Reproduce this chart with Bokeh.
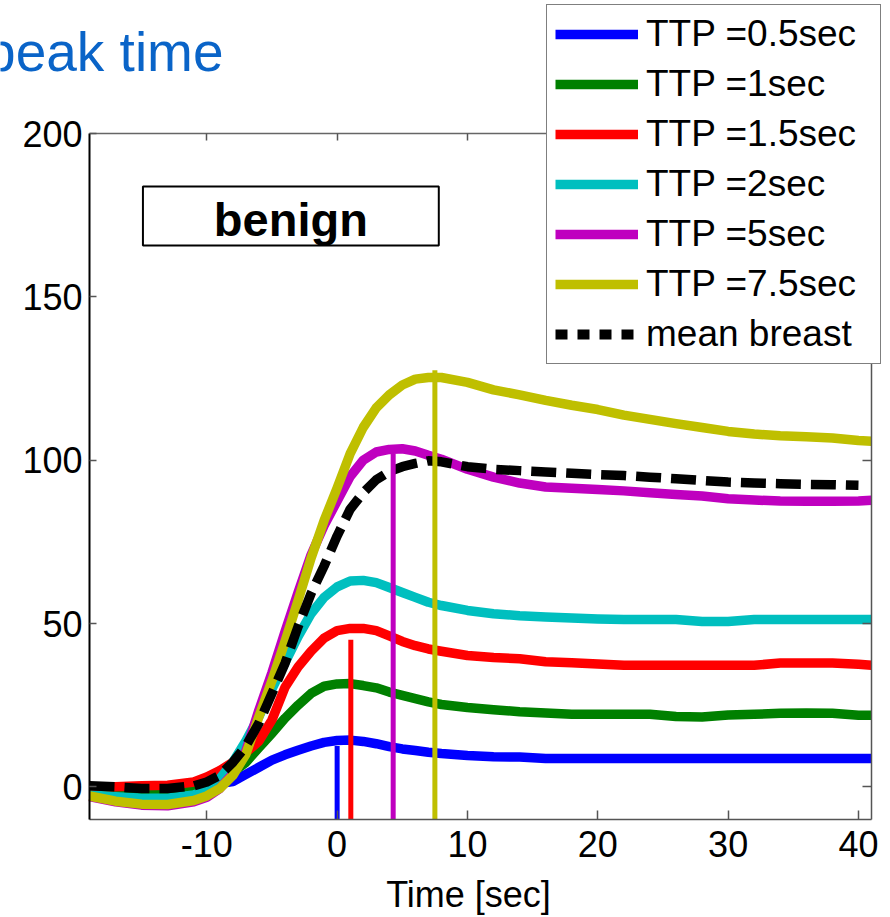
import math

from bokeh.plotting import figure
from bokeh.models import (Range1d, LinearAxis, FixedTicker, Legend, LegendItem,
                          Label, BoxAnnotation, CustomJSTickFormatter)
from bokeh.embed import file_html
from bokeh.resources import INLINE

FONT = "Liberation Sans"

# ---- data -------------------------------------------------------------
time_sec = [-19, -17, -15, -13, -11, -10, -9, -8, -7, -6, -5, -4, -3, -2, -1,
            0, 1, 2, 3, 4, 5, 6, 7, 8, 10, 12, 14, 16, 18, 20, 22, 24, 26, 28,
            30, 32, 34, 36, 38, 40, 41]

ttp_0_5 = [-1, -1.5, -2, -2, -1, 0, 1, 1.6, 3.8, 6, 8.2, 9.8, 11.2, 12.5, 13.6,
           14.2, 14.3, 13.9, 13.2, 12.3, 11.6, 11.1, 10.6, 10.2, 9.6, 9.2, 9.1,
           8.7, 8.7, 8.7, 8.7, 8.7, 8.7, 8.7, 8.7, 8.7, 8.7, 8.7, 8.7, 8.7, 8.7]
ttp_1 = [-1, -1.5, -2, -2, -1, 0, 2, 4.5, 7.5, 12, 16.4, 21, 25, 28.6, 30.8,
         31.5, 31.6, 31, 30.3, 29, 28, 27, 26, 25.2, 24.3, 23.6, 23, 22.6, 22.2,
         22.2, 22.2, 22.2, 21.5, 21.4, 22, 22.2, 22.5, 22.6, 22.5, 21.9, 21.9]
ttp_1_5 = [0, 0, 0.3, 0.5, 1.5, 3, 5, 7.5, 10.5, 14, 20.5, 30.5, 36.7, 41.5, 45.5,
           47.8, 48.5, 48.5, 47.8, 46.2, 44.5, 43.2, 42.2, 41.5, 40.2, 39.6, 39.2,
           38.3, 38, 37.6, 37.2, 37.2, 37.2, 37.2, 37.2, 37.2, 37.9, 37.9, 37.9,
           37.5, 37.2]
ttp_2 = [-2.5, -3, -3.5, -3.5, -2.5, -1, 2.5, 7.5, 14, 21.5, 30, 38, 46, 53, 58,
         61.2, 63, 63.2, 62.5, 61, 59.5, 58, 56.5, 55.5, 54, 53, 52.4, 52, 51.7,
         51.4, 51.2, 51.2, 51.2, 50.6, 50.6, 51.2, 51.2, 51.2, 51.2, 51.2, 51.2]
ttp_5 = [-3, -4.6, -5.6, -5.8, -4.6, -3.2, -0.5, 4, 11, 23.5, 35, 47.5, 59.5, 71,
         80, 87.5, 95, 100, 102.5, 103.3, 103.5, 102.8, 101.5, 100.3, 97.2, 94.8,
         93, 91.8, 91.4, 91, 90.6, 90, 89.5, 89, 88.2, 87.8, 87.5, 87.4, 87.4,
         87.5, 87.7]
ttp_7_5 = [-2.8, -4.4, -5.3, -5.4, -4.2, -2.8, -0.5, 3.5, 10, 21.5, 32.5, 44.5, 57,
           70, 81.5, 91.5, 102, 110, 116, 120, 123, 124.8, 125.3, 125.3, 123.8,
           121.5, 120, 118.3, 116.8, 115.5, 113.8, 112.5, 111.2, 110, 108.8, 108,
           107.5, 107.2, 106.8, 106, 105.8]
mean_breast = [0.3, 0, -0.5, -0.5, 0.3, 1.5, 3.5, 7.5, 12.5, 19.5, 28.6, 37.8, 49,
               59.2, 67.6, 76.8, 85, 90, 94, 96.5, 98, 99, 99.8, 99.5, 98, 97.2,
               96.8, 96.4, 96, 95.6, 95.3, 94.8, 94.3, 93.8, 93.3, 93, 92.8, 92.6,
               92.5, 92.3, math.nan]

series = [ttp_0_5, ttp_1, ttp_1_5, ttp_2, ttp_5, ttp_7_5]
series_labels = ["TTP =0.5sec", "TTP =1sec", "TTP =1.5sec", "TTP =2sec",
                 "TTP =5sec", "TTP =7.5sec"]
series_colors = ["#0000ff", "#008000", "#ff0000", "#00bfbf", "#bf00bf", "#bfbf00"]

# peak-time markers (vertical bars)
peak_time = [0.0, 1.05, 4.3, 7.5]
peak_value = [12.5, 45.0, 102.0, 127.5]
peak_colors = ["#0000ff", "#ff0000", "#bf00bf", "#bfbf00"]

x_ticks = [-10, 0, 10, 20, 30, 40]
y_ticks = [0, 50, 100, 150, 200]
X_MIN, X_MAX = -19, 41
Y_MIN, Y_MAX = -10, 200

# ---- layout: the axes box inside the canvas (pixels) -------------------
W, H = 890, 917
BOX_L, BOX_R, BOX_T, BOX_B = 89, 871, 133, 819
kx = (BOX_R - BOX_L) / (X_MAX - X_MIN)
ky = (BOX_B - BOX_T) / (Y_MAX - Y_MIN)
x_range = Range1d(X_MIN - BOX_L / kx, X_MAX + (W - BOX_R) / kx)
y_range = Range1d(Y_MIN - (H - BOX_B) / ky, Y_MAX + BOX_T / ky)

p = figure(width=W, height=H, x_range=x_range, y_range=y_range,
           output_backend="svg", toolbar_location=None, title=None,
           min_border=0, min_border_left=0, min_border_right=0,
           min_border_top=0, min_border_bottom=0,
           x_axis_location=None, y_axis_location=None)
p.outline_line_color = None
p.xgrid.visible = False
p.ygrid.visible = False
p.background_fill_color = "white"
p.border_fill_color = "white"

blank = CustomJSTickFormatter(code="return ''")


def make_axis(ticks, bounds, fixed, line_color, line_width, tick_in,
              labels=True, standoff=8):
    ax = LinearAxis(fixed_location=fixed, bounds=bounds)
    ax.ticker = FixedTicker(ticks=ticks)
    ax.axis_line_color = line_color
    ax.axis_line_width = line_width
    ax.major_tick_line_color = "#555555"
    ax.major_tick_line_width = 1.5
    ax.major_tick_in = tick_in
    ax.major_tick_out = 0
    ax.minor_tick_line_color = None
    ax.major_label_text_font = FONT
    ax.major_label_text_font_size = "36px"
    ax.major_label_text_color = "black"
    ax.major_label_standoff = standoff
    ax.major_label_overrides = {t: str(t) for t in ticks}
    if not labels:
        ax.formatter = blank
        ax.major_label_overrides = {}
        ax.major_label_standoff = 0
    return ax


p.add_layout(make_axis(x_ticks, (X_MIN, X_MAX), Y_MIN, "#555555", 1.5, 9,
                       standoff=11), "below")
p.add_layout(make_axis(y_ticks, (Y_MIN, Y_MAX), X_MIN, "black", 2, 7,
                       standoff=7), "left")
p.add_layout(make_axis(x_ticks, (X_MIN, X_MAX), Y_MAX, "#666666", 1.5, 7,
                       labels=False), "above")
p.add_layout(make_axis(y_ticks, (Y_MIN, Y_MAX), X_MAX, "#555555", 1.5, 9,
                       labels=False), "right")

# ---- curves -----------------------------------------------------------
items = []
for vals, lab, col in zip(series, series_labels, series_colors):
    r = p.line(time_sec, vals, line_color=col, line_width=9.5, line_join="round")
    items.append(LegendItem(label=lab, renderers=[r]))

p.line(time_sec, mean_breast, line_color="black", line_width=9.5,
       line_dash="25 10", line_join="round")

# legend swatch for the mean curve is dotted; its line sits on an off-view range
p.extra_y_ranges = {"key": Range1d(1000, 1001)}
mean_key = p.line(time_sec, mean_breast, line_color="black", line_width=10,
                  line_dash="12 10", y_range_name="key")
items.append(LegendItem(label="mean breast", renderers=[mean_key]))

# peak-time bars
p.segment(x0=peak_time, y0=[Y_MIN] * len(peak_time), x1=peak_time, y1=peak_value,
          line_color=peak_colors, line_width=5)

# ---- annotations ------------------------------------------------------
p.add_layout(BoxAnnotation(left=-14.9, right=7.8, bottom=165.7, top=183.8,
                           fill_color="white", fill_alpha=1,
                           line_color="black", line_alpha=1, line_width=2))
p.add_layout(Label(x=-3.55, y=173.7, text="benign", text_font=FONT,
                   text_font_size="47px", text_font_style="bold",
                   text_align="center", text_baseline="alphabetic",
                   text_color="black"))

p.add_layout(Label(x=223, y=H - 51, x_units="screen", y_units="screen",
                   text="peak time", text_font=FONT, text_font_size="55px",
                   text_color="#0a64c8", text_align="right",
                   text_baseline="alphabetic"))
p.add_layout(Label(x=468, y=H - 894, x_units="screen", y_units="screen",
                   text="Time [sec]", text_font=FONT, text_font_size="36px",
                   text_color="black", text_align="center",
                   text_baseline="alphabetic"))

legend = Legend(items=items, location=(546, H - 6 - 358), margin=0, padding=8,
                spacing=8, glyph_width=83, glyph_height=42, label_height=42,
                label_standoff=8, label_width=226,
                label_text_font=FONT, label_text_font_size="37px",
                label_text_color="black",
                border_line_color="black", border_line_width=1.5,
                background_fill_color="white", background_fill_alpha=1)
p.add_layout(legend)

open("out.html", "w").write(file_html(p, INLINE))
